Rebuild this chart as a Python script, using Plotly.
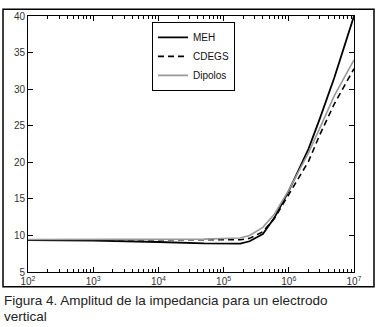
import plotly.graph_objects as go

freq = [1e2, 1e3, 1e4, 5e4, 1.8e5, 2.5e5, 4e5, 6e5, 1e6, 1.5e6, 2e6, 3e6, 5e6, 1e7]
meh = [9.35, 9.3, 9.1, 8.9, 8.88, 9.2, 10.2, 12.4, 16.1, 19.4, 21.8, 26.0, 31.6, 40.0]
cdegs = [9.4, 9.4, 9.35, 9.3, 9.4, 9.6, 10.5, 12.3, 15.6, 18.3, 20.1, 23.8, 28.0, 32.8]
dipolos = [9.45, 9.5, 9.5, 9.5, 9.65, 10.0, 11.1, 12.9, 16.2, 19.2, 21.3, 24.7, 29.1, 34.0]

xticks = [1e2, 1e3, 1e4, 1e5, 1e6, 1e7]
xticktext = ["10<sup>2</sup>", "10<sup>3</sup>", "10<sup>4</sup>", "10<sup>5</sup>", "10<sup>6</sup>", "10<sup>7</sup>"]
yticks = [5, 10, 15, 20, 25, 30, 35, 40]
caption = ["Figura 4. Amplitud de la impedancia para un electrodo", "vertical"]

fig = go.Figure()
fig.add_trace(go.Scatter(x=freq, y=meh, mode="lines", name="MEH",
                         line=dict(color="black", width=1.8)))
fig.add_trace(go.Scatter(x=freq, y=cdegs, mode="lines", name="CDEGS",
                         line=dict(color="black", width=1.6, dash="6px,4px")))
fig.add_trace(go.Scatter(x=freq, y=dipolos, mode="lines", name="Dipolos",
                         line=dict(color="#999999", width=1.6)))

L, R, T, B = 28, 24, 10, 55
W, H = 378, 327
pw = W - L - R
ph = H - T - B

def px(x):
    return (x - L) / pw

def py(y):
    return (H - B - y) / ph

fig.update_layout(
    width=W, height=H,
    margin=dict(l=L, r=R, t=T, b=B),
    paper_bgcolor="white", plot_bgcolor="white",
    font=dict(family="Liberation Sans, Arial, sans-serif", color="#222", size=10),
    showlegend=True,
    legend=dict(x=px(152), y=py(16), xanchor="left", yanchor="top",
                bordercolor="black", borderwidth=1, bgcolor="white",
                font=dict(size=10, color="#111"), tracegroupgap=0,
                itemwidth=30),
    xaxis=dict(type="log", range=[2, 7], tickvals=xticks, ticktext=xticktext,
               ticks="inside", ticklen=5, tickcolor="black", showline=True,
               linecolor="black", linewidth=1, mirror="ticks", showgrid=False,
               zeroline=False, tickfont=dict(size=10, color="#333"),
               minor=dict(ticks="inside", ticklen=3, tickcolor="black", dtick="D1",
                          showgrid=False)),
    yaxis=dict(range=[5, 40], tickvals=yticks, ticks="inside", ticklen=5,
               tickcolor="black", showline=True, linecolor="black", linewidth=1,
               mirror="ticks", showgrid=False, zeroline=False,
               tickfont=dict(size=10, color="#333")),
)

fig.add_shape(type="rect", xref="paper", yref="paper",
              x0=px(3), x1=px(374), y0=py(287), y1=py(3),
              line=dict(color="black", width=1.5), layer="above")

fig.add_annotation(text=caption[0], xref="paper", yref="paper",
                   x=px(2), y=py(301), xanchor="left", yanchor="middle",
                   showarrow=False, font=dict(size=13.5, color="#222"))
fig.add_annotation(text=caption[1], xref="paper", yref="paper",
                   x=px(2), y=py(318), xanchor="left", yanchor="middle",
                   showarrow=False, font=dict(size=13.5, color="#222"))

fig.write_html("out.html", config={"displayModeBar": False},
               post_script="document.body.style.margin='0';document.body.style.padding='0';document.body.style.overflow='hidden';")
